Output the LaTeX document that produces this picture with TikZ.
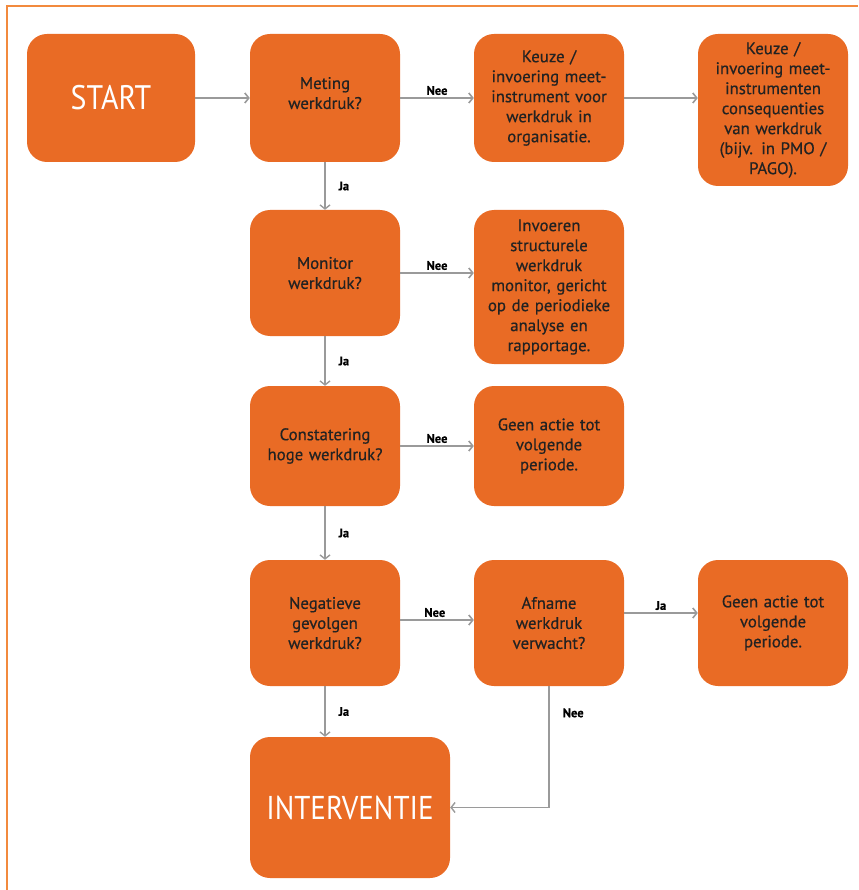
\documentclass[tikz,border=0pt]{standalone}
\usepackage{fontspec}
\setmainfont{PT Sans}
\newfontfamily\boxfont{PT Sans}[FakeBold=0.5]
\newfontfamily\bigfont{PT Sans}[FakeStretch=0.88]
\newfontfamily\lblfont{PT Sans Bold}[FakeBold=0.6]
\usetikzlibrary{arrows.meta,positioning,calc}
\definecolor{boxor}{HTML}{E96B25}
\definecolor{frameor}{HTML}{F28A3E}
\definecolor{arrgray}{HTML}{9A9A9A}
\definecolor{txt}{HTML}{222222}
\tikzset{
  box/.style={fill=boxor, rounded corners=20pt, minimum width=150pt, align=center,
    text width=142pt, text=txt, font=\boxfont\fontsize{16.8}{20}\selectfont, inner sep=0pt},
  bigbox/.style={fill=boxor, rounded corners=20pt, align=center, text=white,
    font=\bigfont\fontsize{34}{38}\selectfont, inner sep=0pt},
  arr/.style={draw=arrgray, line width=2pt, -{Straight Barb[length=4pt,width=10pt,line width=1.6pt]}},
  varr/.style={draw=arrgray, line width=1.5pt, -{Straight Barb[length=4pt,width=10pt,line width=1.4pt]}},
  lbl/.style={font=\lblfont\fontsize{12.5}{13}\selectfont, text=black, inner sep=1pt}
}
\begin{document}
\begin{tikzpicture}[x=1pt,y=-1pt]
\useasboundingbox (0,0) rectangle (858,890);
\draw[frameor, line width=1.6pt] (7,890) -- (7,6) -- (858,6);

\node[bigbox, minimum width=168pt, minimum height=128pt] (start) at (111,98) {START};
\node[box, minimum height=128pt] (meting) at (325,98) {Meting\\werkdruk?\\[-10pt]\mbox{}};
\node[box, minimum height=128pt] (keuze1) at (549,98) {Keuze /\\invoering meet-\\instrument voor\\werkdruk in\\organisatie.};
\node[box, minimum height=152pt] (keuze2) at (773,110) {Keuze /\\invoering meet-\\instrumenten\\consequenties\\van werkdruk\\(bijv. in PMO /\\PAGO).};
\node[box, minimum height=126pt] (monitor) at (325,273) {Monitor\\werkdruk?};
\node[box, minimum height=154pt] (invoeren) at (549,287) {Invoeren\\structurele\\werkdruk\\monitor, gericht\\op de periodieke\\analyse en\\rapportage.};
\node[box, minimum height=120pt] (constat) at (325,446) {Constatering\\hoge werkdruk?};
\node[box, minimum height=120pt] (geen1) at (549,446) {Geen actie tot\\volgende\\periode.};
\node[box, minimum height=126pt] (negatief) at (325,623) {Negatieve\\gevolgen\\werkdruk?};
\node[box, minimum height=126pt] (afname) at (549,623) {Afname\\werkdruk\\verwacht?};
\node[box, minimum height=126pt] (geen2) at (773,623) {Geen actie tot\\volgende\\periode.};
\node[bigbox, minimum width=200pt, minimum height=141pt, font=\bigfont\fontsize{33}{38}\selectfont] (interv) at (350,807.5) {INTERVENTIE};

\draw[arr] (start) -- (meting);
\draw[arr] (meting) -- node[lbl, pos=0.5, above=1pt] {Nee} (keuze1);
\draw[arr] (keuze1.east) -- (keuze1.east -| keuze2.west);
\draw[arr] (monitor.east) -- node[lbl, pos=0.5, above=1pt] {Nee} (monitor.east -| invoeren.west);
\draw[arr] (constat) -- node[lbl, pos=0.5, above=1pt] {Nee} (geen1);
\coordinate (nA) at ($(negatief.east)+(0,-3)$);
\draw[arr] (nA) -- node[lbl, pos=0.47, above=1pt] {Nee} (nA -| afname.west);
\coordinate (aA) at ($(afname.east)+(0,-10)$);
\draw[arr] (aA) -- node[lbl, pos=0.5, above=1pt] {Ja} (aA -| geen2.west);

\draw[varr] (meting) -- node[lbl, pos=0.5, right=12pt] {Ja} (monitor);
\draw[varr] (monitor) -- node[lbl, pos=0.5, right=12pt] {Ja} (constat);
\draw[varr] (constat) -- node[lbl, pos=0.5, right=12pt] {Ja} (negatief);
\draw[varr] (negatief.south) -- node[lbl, pos=0.5, right=12pt] {Ja} (negatief.south |- interv.north);
\coordinate (bend) at (afname.south |- interv.east);
\draw[varr] (afname.south) -- node[lbl, pos=0.22, right=12pt] {Nee} (bend) -- (interv.east);
\end{tikzpicture}
\end{document}
